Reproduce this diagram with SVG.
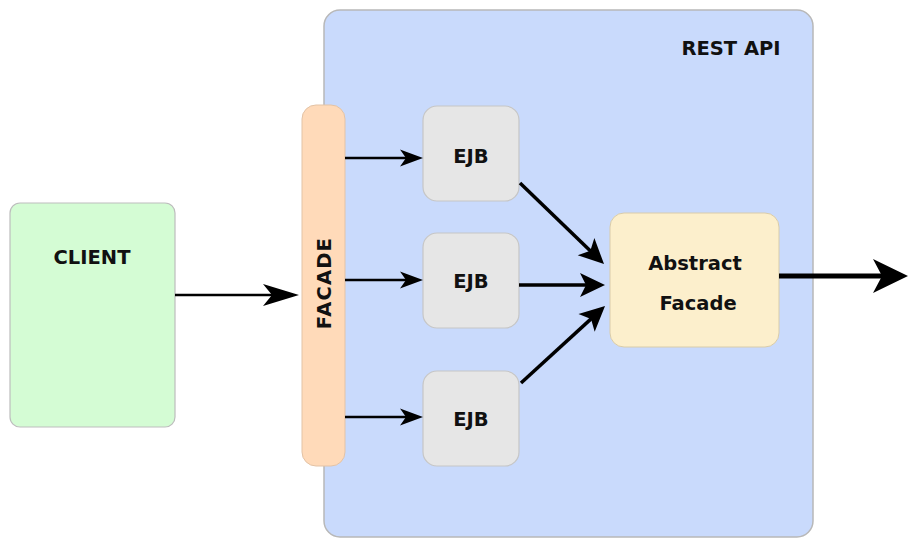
<svg xmlns="http://www.w3.org/2000/svg" width="910" height="539" viewBox="0 0 910 539">
  <style>
    .lbl { font-family: "DejaVu Sans", "Liberation Sans", sans-serif; font-weight: bold; font-size: 19.5px; fill: #111; text-anchor: middle; }
    .ejb { fill: #E6E6E6; stroke: #C6C6C6; stroke-width: 1.2; }
    .thin { stroke: #000; stroke-width: 2.5; fill: none; }
    .mid { stroke: #000; stroke-width: 3.5; fill: none; }
    .thick { stroke: #000; stroke-width: 5; fill: none; }
  </style>
  <defs>
    <marker id="headLarge" markerUnits="userSpaceOnUse" orient="auto" refX="0" refY="0" markerWidth="80" markerHeight="80" overflow="visible">
      <path d="M6,0 L-30,-11 L-21,0 L-30,11 Z" fill="#000"/>
    </marker>
    <marker id="headSmall" markerUnits="userSpaceOnUse" orient="auto" refX="0" refY="0" markerWidth="60" markerHeight="60" overflow="visible">
      <path d="M6,0 L-17,-8.5 L-11,0 L-17,8.5 Z" fill="#000"/>
    </marker>
    <marker id="headMid" markerUnits="userSpaceOnUse" orient="auto" refX="0" refY="0" markerWidth="60" markerHeight="60" overflow="visible">
      <path d="M6,0 L-19,-12 L-13,0 L-19,12 Z" fill="#000"/>
    </marker>
    <marker id="headOut" markerUnits="userSpaceOnUse" orient="auto" refX="0" refY="0" markerWidth="80" markerHeight="80" overflow="visible">
      <path d="M6,0 L-29,-17 L-20,0 L-29,17 Z" fill="#000"/>
    </marker>
  </defs>

  <!-- container -->
  <g id="rest-api">
    <rect x="324" y="10" width="489" height="527" rx="16" fill="#C9DAFC" stroke="#B8B8B8" stroke-width="1.5"/>
    <text class="lbl" x="731" y="55">REST API</text>
  </g>

  <g id="client">
    <rect x="10" y="203" width="165" height="224" rx="10" fill="#D4FCD4" stroke="#BDBDBD" stroke-width="1.2"/>
    <text class="lbl" x="92" y="264">CLIENT</text>
  </g>

  <g id="facade">
    <rect x="302" y="105" width="43" height="361" rx="14" fill="#FFDAB9" stroke="#E3C3A6" stroke-width="1"/>
    <text class="lbl" transform="translate(331,283) rotate(-90)" letter-spacing="1.2">FACADE</text>
  </g>

  <g id="ejb-1">
    <rect class="ejb" x="423" y="106" width="96" height="95" rx="14"/>
    <text class="lbl" x="471" y="163">EJB</text>
  </g>
  <g id="ejb-2">
    <rect class="ejb" x="423" y="233" width="96" height="95" rx="14"/>
    <text class="lbl" x="471" y="288">EJB</text>
  </g>
  <g id="ejb-3">
    <rect class="ejb" x="423" y="371" width="96" height="95" rx="14"/>
    <text class="lbl" x="471" y="426">EJB</text>
  </g>

  <g id="abstract-facade">
    <rect x="610" y="213" width="169" height="134" rx="14" fill="#FCEFCC" stroke="#D9CCAA" stroke-width="1"/>
    <text class="lbl" x="695" y="270">Abstract</text>
    <text class="lbl" x="698" y="310">Facade</text>
  </g>

  <g id="connectors">
    <line class="thin" x1="175" y1="295" x2="293" y2="295" marker-end="url(#headLarge)"/>
    <line class="thin" x1="345" y1="158" x2="417" y2="158" marker-end="url(#headSmall)"/>
    <line class="thin" x1="345" y1="280" x2="417" y2="280" marker-end="url(#headSmall)"/>
    <line class="thin" x1="345" y1="417" x2="417" y2="417" marker-end="url(#headSmall)"/>
    <line class="mid" x1="520" y1="183" x2="599.7" y2="259.9" marker-end="url(#headMid)"/>
    <line class="mid" x1="519" y1="285" x2="599" y2="285" marker-end="url(#headMid)"/>
    <line class="mid" x1="521" y1="383" x2="600.6" y2="310.1" marker-end="url(#headMid)"/>
    <line class="thick" x1="779" y1="276" x2="902" y2="276" marker-end="url(#headOut)"/>
  </g>
</svg>
